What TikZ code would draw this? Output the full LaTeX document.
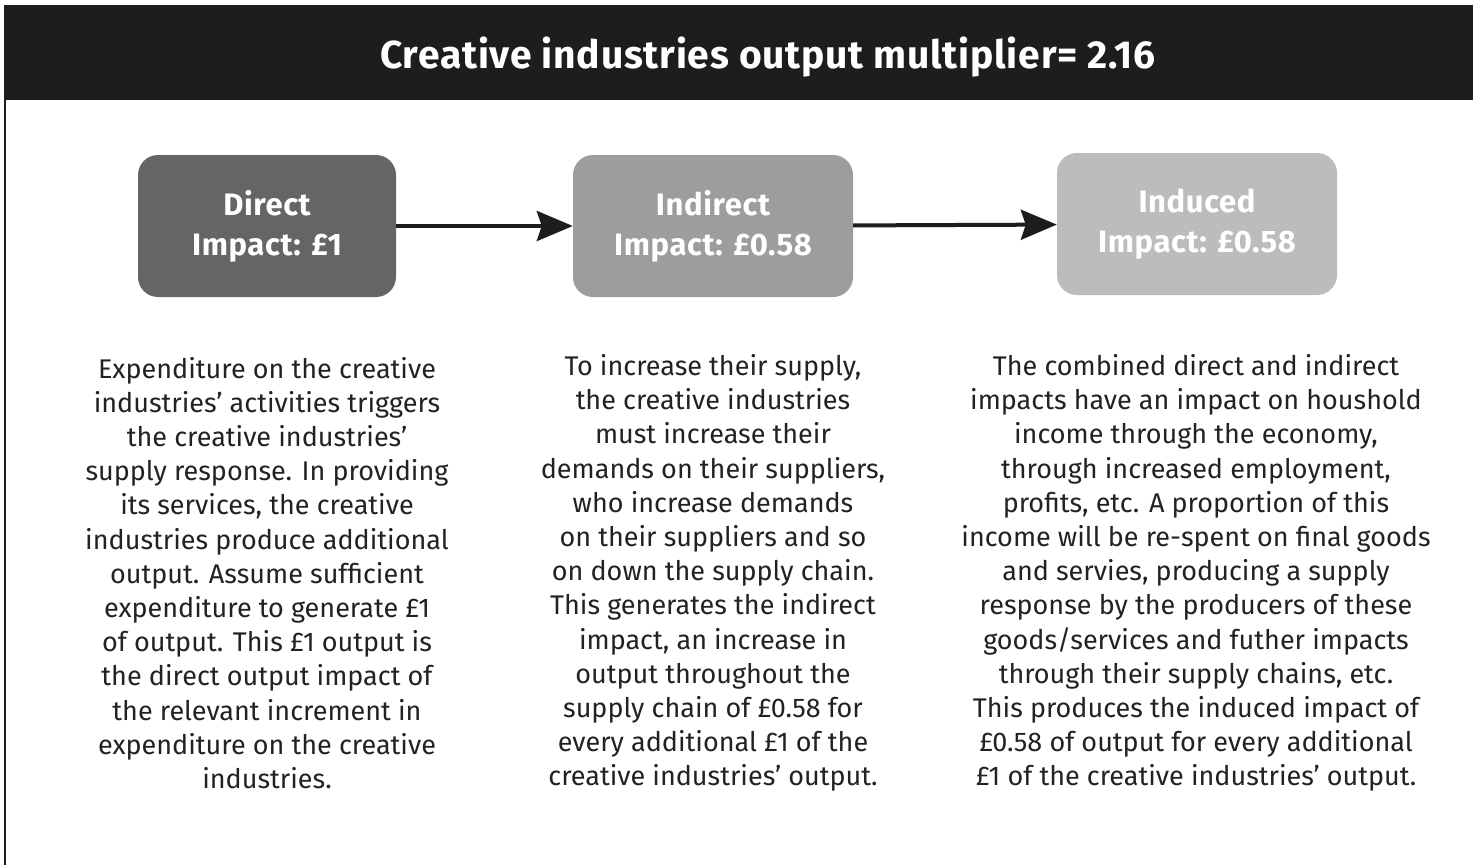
\documentclass[tikz,border=0pt]{standalone}
\usepackage{fontspec}
\setmainfont{Fira Sans}
\newfontfamily\headfont{Fira Sans}[LetterSpace=2]
\usetikzlibrary{arrows.meta}
\definecolor{barbg}{HTML}{1D1D1B}
\definecolor{boxA}{HTML}{656565}
\definecolor{boxB}{HTML}{9D9D9D}
\definecolor{boxC}{HTML}{BCBCBC}
\definecolor{bodytxt}{HTML}{222222}
\tikzset{
  impactbox/.style={rounded corners=20pt, minimum width=258pt, minimum height=142pt,
    align=center, text=white, inner sep=0pt,
    font=\headfont\bfseries\fontsize{31pt}{40pt}\selectfont},
  flowarrow/.style={line width=4pt, -{Stealth[length=36pt,width=30pt,inset=5pt]}, color=barbg},
  coltext/.style={align=center, text=bodytxt, inner sep=0pt,
    font=\fontsize{27pt}{34.2pt}\selectfont},
  titletext/.style={text=white, inner sep=0pt,
    font=\headfont\bfseries\fontsize{39pt}{48pt}\selectfont}
}
\begin{document}
\begin{tikzpicture}[x=1pt,y=-1pt]
\useasboundingbox (0,0) rectangle (1473,865);
\fill[white] (0,0) rectangle (1473,865);
\fill[barbg] (4,5) rectangle (1473,100);
\draw[barbg, line width=2.5pt] (5,5) -- (5,865);
\node[titletext] (title) at (768,57) {Creative industries output multiplier= 2.16};

\node[impactbox, fill=boxA] (direct) at (267,226) {Direct\\Impact: £1};
\node[impactbox, fill=boxB, minimum width=280pt] (indirect) at (713,226) {Indirect\\Impact: £0.58};
\node[impactbox, fill=boxC, minimum width=280pt] (induced) at (1197,224) {Induced\\Impact: £0.58};

\draw[flowarrow] (direct) -- (indirect);
\draw[flowarrow] (indirect) -- (induced);

\node[coltext] (t1) at (267,573) {Expenditure on the creative\\
industries' activities triggers\\
the creative industries'\\
supply response. In providing\\
its services, the creative\\
industries produce additional\\
output. Assume sufficient\\
expenditure to generate £1\\
of output. This £1 output is\\
the direct output impact of\\
the relevant increment in\\
expenditure on the creative\\
industries.};

\node[coltext] (t2) at (713,573) {To increase their supply,\\
the creative industries\\
must increase their\\
demands on their suppliers,\\
who increase demands\\
on their suppliers and so\\
on down the supply chain.\\
This generates the indirect\\
impact, an increase in\\
output throughout the\\
supply chain of £0.58 for\\
every additional £1 of the\\
creative industries' output.};

\node[coltext] (t3) at (1196,573) {The combined direct and indirect\\
impacts have an impact on houshold\\
income through the economy,\\
through increased employment,\\
profits, etc. A proportion of this\\
income will be re-spent on final goods\\
and servies, producing a supply\\
response by the producers of these\\
goods/services and futher impacts\\
through their supply chains, etc.\\
This produces the induced impact of\\
£0.58 of output for every additional\\
£1 of the creative industries' output.};
\end{tikzpicture}
\end{document}
